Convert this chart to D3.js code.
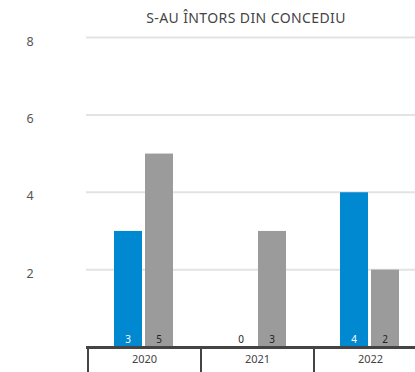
<!DOCTYPE html>
<html>
<head>
<meta charset="utf-8">
<script src="https://cdn.jsdelivr.net/npm/d3@7"></script>
<style>
  html, body { margin: 0; padding: 0; background: #fff; }
  svg { display: block; font-family: "Noto Sans", "Open Sans", sans-serif; }
</style>
</head>
<body>
<svg id="chart" width="415" height="372"></svg>
<script>
// Chart data
const title = "S-AU ÎNTORS DIN CONCEDIU";
const years = ["2020", "2021", "2022"];
const seriesKeys = ["a", "b"];
const seriesA = [3, 0, 4];
const seriesB = [5, 3, 2];
const yTicks = [2, 4, 6, 8];
const seriesColors = ["#0088d1", "#9b9b9b"];
const labelColors = ["#ffffff", "#222222"];

const svg = d3.select("#chart");
const W = 415, H = 372;

const x0 = d3.scaleBand().domain(years).range([88, 88 + 113 * 3]).padding(0);
const x1 = d3.scaleBand().domain(seriesKeys).range([26, 85]).paddingInner(3 / 31).paddingOuter(0);
const y = d3.scaleLinear().domain([0, 8]).range([347, 37.5]);

// gridlines
svg.append("g").selectAll("line").data(yTicks).join("line")
  .attr("x1", 86).attr("x2", W)
  .attr("y1", d => y(d)).attr("y2", d => y(d))
  .attr("stroke", "#e3e3e3").attr("stroke-width", 2);

// y tick labels
svg.append("g").selectAll("text").data(yTicks).join("text")
  .attr("x", 30).attr("y", d => y(d) + 8)
  .attr("text-anchor", "middle")
  .attr("font-size", 12.5).attr("fill", "#555")
  .text(d => d);

// bars
const rows = years.map((yr, i) => ({ year: yr, values: [seriesA[i], seriesB[i]] }));
const groups = svg.append("g").selectAll("g").data(rows).join("g")
  .attr("transform", d => `translate(${x0(d.year)},0)`);

groups.selectAll("rect").data(d => d.values.map((v, k) => ({ v, k })))
  .join("rect")
  .attr("x", d => x1(seriesKeys[d.k]))
  .attr("width", x1.bandwidth())
  .attr("y", d => y(d.v))
  .attr("height", d => y(0) - y(d.v))
  .attr("fill", d => seriesColors[d.k]);

groups.selectAll("text").data(d => d.values.map((v, k) => ({ v, k })))
  .join("text")
  .attr("x", d => x1(seriesKeys[d.k]) + x1.bandwidth() / 2)
  .attr("y", 343)
  .attr("text-anchor", "middle")
  .attr("font-size", 10)
  .attr("fill", d => d.v === 0 ? "#222" : labelColors[d.k])
  .text(d => d.v);

// x axis
const xAxis = svg.append("g").attr("transform", `translate(0,${y(0)})`)
  .call(d3.axisBottom(x0).tickSize(0).tickPadding(8));
xAxis.select(".domain").remove();
xAxis.selectAll("text").attr("font-size", 11).attr("fill", "#444")
  .attr("font-family", "\"Noto Sans\", sans-serif");

svg.append("line")
  .attr("x1", 86).attr("x2", W)
  .attr("y1", y(0) + 0.5).attr("y2", y(0) + 0.5)
  .attr("stroke", "#444").attr("stroke-width", 3);

// category separators
svg.append("g").selectAll("line").data(years).join("line")
  .attr("x1", d => x0(d)).attr("x2", d => x0(d))
  .attr("y1", y(0)).attr("y2", H)
  .attr("stroke", "#444").attr("stroke-width", 2);

// title
svg.append("text")
  .attr("x", 246).attr("y", 23)
  .attr("text-anchor", "middle")
  .attr("font-size", 14).attr("fill", "#444")
  .attr("letter-spacing", 0.4)
  .text(title);
</script>
</body>
</html>
